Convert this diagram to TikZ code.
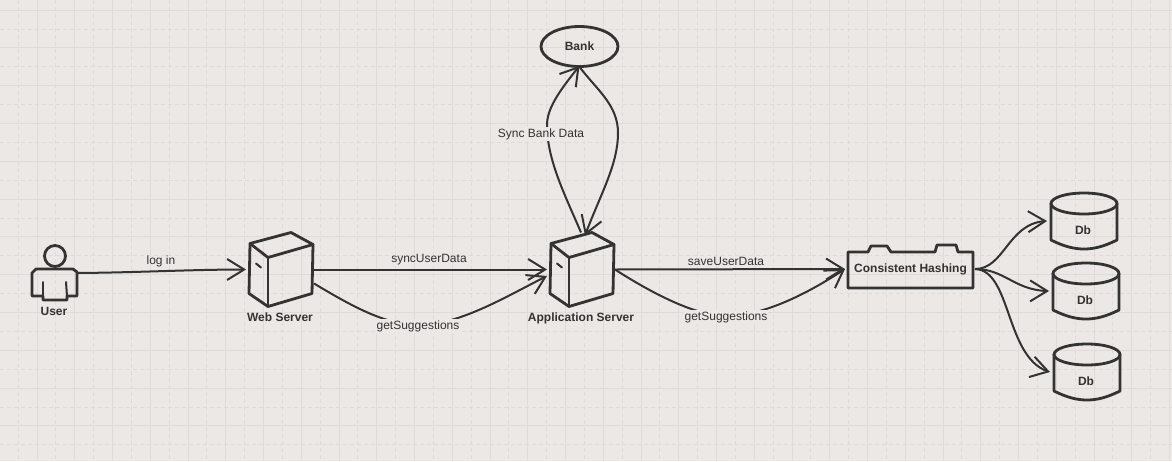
\documentclass[tikz,border=0pt]{standalone}
\usepackage{fontspec}
\setmainfont{Liberation Sans}
\usetikzlibrary{arrows.meta,shapes.geometric,bending}
\definecolor{bgc}{HTML}{EBE8E5}
\definecolor{gridc}{HTML}{DEDBD8}
\definecolor{ink}{HTML}{333333}
\tikzset{
  shp/.style={draw=ink,line width=2.8pt,line cap=round,line join=round},
  conn/.style={draw=ink,line width=2pt,-{Straight Barb[length=17pt,width=21pt,line width=2pt]}},
  plainlab/.style={text=ink,font=\fontsize{12}{14}\selectfont,inner sep=1pt,text height=9pt,text depth=3pt,yshift=-1pt},
  boldlab/.style={text=ink,font=\fontsize{12}{14}\selectfont\bfseries,inner sep=1pt,text height=9pt,text depth=3pt,yshift=-1pt},
  box/.style={inner sep=0pt,outer sep=0pt},
  pics/serverbox/.style={code={
    \draw[shp] (-31,-14) -- (10,-25) -- (32,-13) -- (31,36) -- (-13,49) -- (-32,36) -- cycle;
    \draw[shp] (-31,-14) -- (-13,0) -- (32,-13);
    \draw[shp] (-13,0) -- (-13,49);
    \draw[shp,line width=2pt] (-25,6) -- (-20,10);
  }},
  pics/dbcyl/.style={code={
    \draw[shp] (0,0) ellipse[x radius=33,y radius=10.5];
    \draw[shp] (-33,0) -- (-33,36.5) .. controls (-20,43) and (-10,45.5) .. (0,45.5) .. controls (10,45.5) and (20,43) .. (33,36.5) -- (33,0);
  }},
}
\begin{document}
\begin{tikzpicture}[x=1pt,y=-1pt]
\useasboundingbox (0,0) rectangle (1172,461);
\fill[bgc] (0,0) rectangle (1172,461);
% grid
\foreach \k in {0,...,31} {
  \draw[gridc,line width=.8pt] ({\k*37.75-0.75},0) -- ({\k*37.75-0.75},461);
  \draw[gridc,line width=.7pt,dash pattern=on 4pt off 3pt] ({\k*37.75+18},0) -- ({\k*37.75+18},461);
}
\foreach \k in {0,...,12} {
  \draw[gridc,line width=.8pt] (0,{\k*37.8+10}) -- (1172,{\k*37.8+10});
  \draw[gridc,line width=.7pt,dash pattern=on 4pt off 3pt] (0,{\k*37.8+29}) -- (1172,{\k*37.8+29});
}
% user
\node[box,minimum width=45pt,minimum height=58pt] (user) at (54.5,272) {};
\draw[shp] (55,256) circle[radius=10.5];
\draw[shp] (36,269) -- (73,269) -- (77,272) -- (77,296) -- (67,296) -- (67,300) -- (43,300) -- (43,296) -- (32,296) -- (32,273) -- cycle;
\draw[shp,line width=2pt] (43,282) -- (43,296);
\draw[shp,line width=2pt] (66,282) -- (67,296);
\node[boldlab] (userlab) at (54,311) {User};
% servers
\node[box,minimum width=64pt,minimum height=74pt] (web) at (281,269.5) {};
\pic at (281,257.5) {serverbox};
\node[boldlab] (weblab) at (280,317) {Web Server};
\node[box,minimum width=64pt,minimum height=74pt] (app) at (582,269.5) {};
\pic at (582,257.5) {serverbox};
\node[boldlab] (applab) at (581,317) {Application Server};
% bank
\node[ellipse,draw=ink,line width=2.8pt,minimum width=77pt,minimum height=40pt,inner sep=0pt,text=ink,font=\fontsize{12}{14}\selectfont\bfseries] (bank) at (579.5,46.5) {Bank};
% consistent hashing
\node[box,minimum width=125pt,minimum height=36pt,boldlab,yshift=1pt] (hash) at (910.5,269) {Consistent Hashing};
\draw[shp] (848,252) -- (868,252) -- (871,246) -- (887,246) -- (891,252) -- (935,252) -- (937,245) -- (956,245) -- (958,252) -- (973,252) -- (973,288) -- (848,288) -- cycle;
% dbs
\node[box,minimum width=66pt,minimum height=56pt] (dba) at (1084,221) {};
\pic at (1084,203.5) {dbcyl};
\node[boldlab] (dbatxt) at (1083,230) {Db};
\node[box,minimum width=66pt,minimum height=56pt] (dbb) at (1086,291) {};
\pic at (1086,273.5) {dbcyl};
\node[boldlab] (dbbtxt) at (1085,300) {Db};
\node[box,minimum width=66pt,minimum height=56pt] (dbc) at (1087,372) {};
\pic at (1087,354.5) {dbcyl};
\node[boldlab] (dbctxt) at (1086,381) {Db};
% connectors
\draw[conn] ([shift={(1,1)}]user.east) .. controls (140,272.5) and (190,269.5) .. ([xshift=-3]web.west);
\node[plainlab] (l1) at (161,260) {log in};
\draw[conn] ([xshift=1]web.east) -- ([xshift=-3]app.west);
\node[plainlab] (l2) at (429,258) {syncUserData};
\draw[conn] ([shift={(1,14)}]web.east) .. controls (350,305) and (385,325) .. (418,325) .. controls (460,325) and (505,297) .. ([shift={(-3,6.5)}]app.west);
\node[plainlab,fill=bgc] (l3) at (418,325) {getSuggestions};
\draw[conn] ([xshift=1]app.east) -- ([xshift=-3]hash.west);
\node[plainlab] (l4) at (726,261) {saveUserData};
\draw[conn] ([xshift=1]app.east) .. controls (650,292) and (695,316) .. (726,316) .. controls (765,316) and (810,292) .. ([xshift=-3]hash.west);
\node[plainlab,fill=bgc] (l5) at (726,316) {getSuggestions};
\draw[conn] ([xshift=-1]app.north) .. controls (565,195) and (547,160) .. (547,125) .. controls (547,108) and (560,90) .. ([yshift=2]bank.south);
\node[plainlab,fill=bgc] (l6) at (541,133) {Sync Bank Data};
\draw[conn] ([yshift=1]bank.south) .. controls (597,90) and (618,105) .. (618,133) .. controls (618,165) and (600,195) .. ([xshift=3,yshift=-3]app.north);
\draw[conn] ([xshift=2]hash.east) .. controls (1005,269) and (1008,222) .. ([xshift=-4]dba.west);
\draw[conn] ([xshift=2]hash.east) .. controls (1005,269) and (1015,291) .. ([xshift=-4]dbb.west);
\draw[conn] ([xshift=2]hash.east) .. controls (1012,270) and (1005,360) .. ([xshift=-4]dbc.west);
\end{tikzpicture}
\end{document}
